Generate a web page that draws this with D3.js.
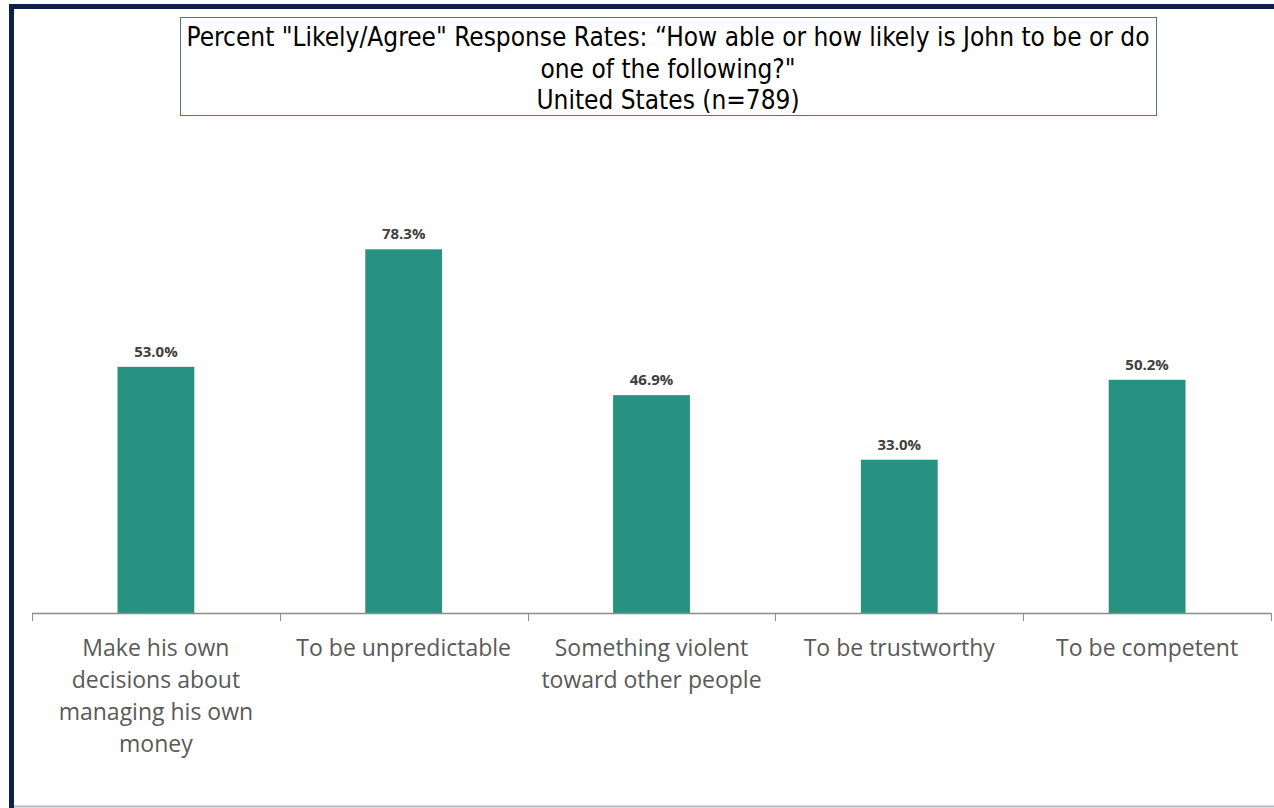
<!DOCTYPE html>
<html>
<head>
<meta charset="utf-8">
<script src="https://cdn.jsdelivr.net/npm/d3@7"></script>
<style>
  html, body { margin: 0; padding: 0; background: #fff; }
  #chart { width: 1274px; height: 808px; }
</style>
</head>
<body>
<div id="chart"></div>
<script>
// chart data
var categories = [
  "Make his own decisions about managing his own money",
  "To be unpredictable",
  "Something violent toward other people",
  "To be trustworthy",
  "To be competent"
];
var categoryLines = [
  ["Make his own", "decisions about", "managing his own", "money"],
  ["To be unpredictable"],
  ["Something violent", "toward other people"],
  ["To be trustworthy"],
  ["To be competent"]
];
var likelyAgree = [53.0, 78.3, 46.9, 33.0, 50.2];
var titleLines = [
  "Percent \"Likely/Agree\" Response Rates: \u201cHow able or how likely is John to be or do",
  "one of the following?\"",
  "United States (n=789)"
];

var width = 1274,
    height = 808;

var svg = d3.select("#chart")
  .append("svg")
    .attr("width", width)
    .attr("height", height);

// frame
svg.append("rect")
    .attr("x", 0).attr("y", 0)
    .attr("width", width).attr("height", height)
    .attr("fill", "white");

svg.append("line")
    .attr("x1", 12).attr("x2", width)
    .attr("y1", 806.5).attr("y2", 806.5)
    .attr("stroke", "#b4bcc6").attr("stroke-width", 2);

svg.append("line")
    .attr("x1", 9).attr("x2", width)
    .attr("y1", 6.5).attr("y2", 6.5)
    .attr("stroke", "#0d2144").attr("stroke-width", 5);

svg.append("line")
    .attr("x1", 11.5).attr("x2", 11.5)
    .attr("y1", 4).attr("y2", height)
    .attr("stroke", "#0d2144").attr("stroke-width", 5);

// title box
svg.append("rect")
    .attr("x", 180.5).attr("y", 17.5)
    .attr("width", 976).attr("height", 98)
    .attr("fill", "white")
    .attr("stroke", "#5c6e8c")
    .attr("stroke-width", 1);

svg.append("g")
  .selectAll("text")
  .data(titleLines)
  .enter().append("text")
    .attr("x", 668)
    .attr("y", function(d, i) { return 46 + i * 31.5; })
    .attr("text-anchor", "middle")
    .attr("font-family", "'Liberation Sans Narrow', 'DejaVu Sans Condensed', sans-serif")
    .attr("font-size", "26px")
    .attr("fill", "#000")
    .text(function(d) { return d; });

// plot
var margin = {left: 32, right: 3, top: 148, bottom: 195};
var x = d3.scaleBand()
    .domain(categories)
    .range([margin.left, width - margin.right])
    .paddingInner(0.69)
    .paddingOuter(0.345);

var y = d3.scaleLinear()
    .domain([0, 100])
    .range([613, 148.5]);

svg.append("g")
  .selectAll("rect")
  .data(likelyAgree)
  .enter().append("rect")
    .attr("x", function(d, i) { return x(categories[i]); })
    .attr("y", function(d) { return y(d); })
    .attr("width", x.bandwidth())
    .attr("height", function(d) { return y(0) - y(d); })
    .attr("fill", "#279282");

svg.append("g")
  .selectAll("text")
  .data(likelyAgree)
  .enter().append("text")
    .attr("x", function(d, i) { return x(categories[i]) + x.bandwidth() / 2; })
    .attr("y", function(d) { return y(d) - 10; })
    .attr("text-anchor", "middle")
    .attr("font-family", "'Open Sans', sans-serif")
    .attr("font-weight", "bold")
    .attr("font-size", "15px")
    .attr("fill", "#404040")
    .text(function(d) { return d.toFixed(1) + "%"; });

// x axis with ticks between categories
var axisG = svg.append("g");
axisG.append("line")
    .attr("x1", margin.left).attr("x2", width - margin.right)
    .attr("y1", 613.5).attr("y2", 613.5)
    .attr("stroke", "#8c8c8c").attr("stroke-width", 1.5);

var tickXs = d3.range(categories.length + 1).map(function(i) {
  return margin.left + i * (width - margin.right - margin.left) / categories.length;
});
axisG.selectAll(".tick")
  .data(tickXs)
  .enter().append("line")
    .attr("x1", function(d) { return Math.round(d) + 0.5; })
    .attr("x2", function(d) { return Math.round(d) + 0.5; })
    .attr("y1", 613).attr("y2", 621)
    .attr("stroke", "#8c8c8c").attr("stroke-width", 1);

var labelG = axisG.selectAll(".cat")
  .data(categories)
  .enter().append("text")
    .attr("class", "cat")
    .attr("text-anchor", "middle")
    .attr("font-family", "'Open Sans', sans-serif")
    .attr("font-size", "23px")
    .attr("fill", "#595959");

labelG.each(function(d, i) {
  var t = d3.select(this);
  categoryLines[i].forEach(function(line, j) {
    t.append("tspan")
      .attr("x", x(d) + x.bandwidth() / 2)
      .attr("y", 656 + j * 32)
      .text(line);
  });
});
</script>
</body>
</html>
